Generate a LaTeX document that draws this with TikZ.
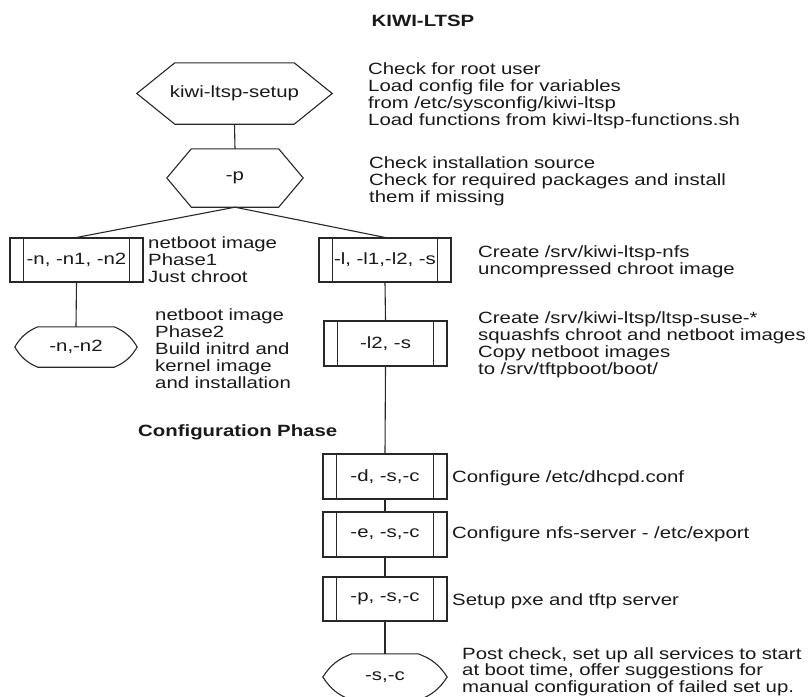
\documentclass[tikz,border=0pt]{standalone}
\usepackage{fontspec}
\setmainfont{Liberation Sans}[FakeStretch=1.25]
\usetikzlibrary{calc}
\definecolor{linecol}{RGB}{40,40,40}
\definecolor{txtcol}{RGB}{25,25,25}
\tikzset{
  ln/.style={draw=linecol, line width=1.1pt},
  lbl/.style={font=\fontsize{16.3}{17}\selectfont, text=txtcol},
  note/.style={lbl, anchor=base west, inner sep=0pt, text width=400pt, align=left},
  shapenode/.style={lbl, inner sep=0pt, draw=none},
  procbox/.style={lbl, draw=linecol, line width=1.1pt, minimum width=124pt, minimum height=45pt, inner sep=0pt,
    path picture={\draw[linecol, line width=1.1pt]
      ([xshift=13.5pt]path picture bounding box.north west) -- ([xshift=13.5pt]path picture bounding box.south west)
      ([xshift=-13.5pt]path picture bounding box.north east) -- ([xshift=-13.5pt]path picture bounding box.south east);}},
}
\begin{document}
\begin{tikzpicture}[x=1pt,y=-1pt]
\useasboundingbox[fill=white] (0,0) rectangle (808,696);

% title
\node[lbl, font=\fontsize{16.3}{17}\selectfont\bfseries, anchor=base, inner sep=0pt] (title) at (423,26.7) {KIWI-LTSP};

% hexagons
\node[shapenode, minimum width=195pt, minimum height=61pt] (setup) at (234.5,93.5) {kiwi-ltsp-setup};
\draw[ln] ($(setup.north west)+(38pt,0)$) -- ($(setup.north east)+(-38pt,0)$) -- (setup.east)
  -- ($(setup.south east)+(-38pt,0)$) -- ($(setup.south west)+(38pt,0)$) -- (setup.west) -- cycle;

\node[shapenode, minimum width=136pt, minimum height=58pt] (popt) at (235,178) {-p};
\draw[ln] ($(popt.north west)+(24.5pt,0)$) -- ($(popt.north east)+(-24.5pt,0)$) -- (popt.east)
  -- ($(popt.south east)+(-24.5pt,0)$) -- ($(popt.south west)+(24.5pt,0)$) -- (popt.west) -- cycle;

% process boxes
\node[procbox, minimum width=133pt, minimum height=44pt] (nbox) at (76.5,260) {-n, -n1, -n2};
\node[procbox, minimum width=132pt, minimum height=44pt] (lbox) at (385,260) {-l, -l1,-l2, -s};
\node[procbox, minimum width=123pt] (l2box) at (385.5,343.5) {-l2, -s};
\node[procbox] (dbox) at (385,476.5) {-d, -s,-c};
\node[procbox] (ebox) at (385,534.5) {-e, -s,-c};
\node[procbox, minimum height=44pt] (pbox) at (385,599) {-p, -s,-c};

% terminals
\node[shapenode, minimum width=122pt, minimum height=40pt] (term1) at (76,347) {-n,-n2};
\draw[ln] ($(term1.north west)+(23pt,0)$) -- ($(term1.north east)+(-23pt,0)$)
  to[bend left=18] (term1.east) to[bend left=18] ($(term1.south east)+(-23pt,0)$)
  -- ($(term1.south west)+(23pt,0)$) to[bend left=18] (term1.west)
  to[bend left=18] ($(term1.north west)+(23pt,0)$) -- cycle;

\node[shapenode, minimum width=124pt, minimum height=46pt] (term2) at (385,677) {-s,-c};
\draw[ln] ($(term2.north west)+(29pt,0)$) -- ($(term2.north east)+(-29pt,0)$)
  to[bend left=18] (term2.east) to[bend left=18] ($(term2.south east)+(-29pt,0)$)
  -- ($(term2.south west)+(29pt,0)$) to[bend left=18] (term2.west)
  to[bend left=18] ($(term2.north west)+(29pt,0)$) -- cycle;

% connectors
\draw[ln] (setup.south) -- (popt.north);
\draw[ln] (popt.south) -- (nbox.north);
\draw[ln] (popt.south) -- (lbox.north);
\draw[ln] (nbox.south) -- (term1.north);
\draw[ln] (lbox.south) -- (l2box.north);
\draw[ln] (l2box.south) -- (dbox.north);
\draw[ln] (dbox.south) -- (ebox.north);
\draw[ln] (ebox.south) -- (pbox.north);
\draw[ln] (pbox.south) -- (term2.north);

% notes
\node[note] (n1) at (368,74.8) {Check for root user\\Load config file for variables\\from /etc/sysconfig/kiwi-ltsp\\Load functions from kiwi-ltsp-functions.sh};
\node[note] (n2) at (369,168.7) {Check installation source\\Check for required packages and install\\them if missing};
\node[note] (n3) at (148,248) {netboot image\\Phase1\\Just chroot};
\node[note] (n4) at (155,320.5) {netboot image\\Phase2\\Build initrd and\\kernel image\\and installation};
\node[note] (n5) at (478,257) {Create /srv/kiwi-ltsp-nfs\\uncompressed chroot image};
\node[note] (n6) at (478,323) {Create /srv/kiwi-ltsp/ltsp-suse-*\\squashfs chroot and netboot images\\Copy netboot images\\to /srv/tftpboot/boot/};
\node[note, font=\fontsize{16.3}{17}\selectfont\bfseries] (conf) at (138,436.7) {Configuration Phase};
\node[note] (n7) at (452,482.7) {Configure /etc/dhcpd.conf};
\node[note] (n8) at (452,538.7) {Configure nfs-server - /etc/export};
\node[note] (n9) at (452,605) {Setup pxe and tftp server};
\node[note, font=\fontsize{16.3}{16.5}\selectfont] (n10) at (462,659) {Post check, set up all services to start\\at boot time, offer suggestions for\\manual configuration of failed set up.};
\end{tikzpicture}
\end{document}
